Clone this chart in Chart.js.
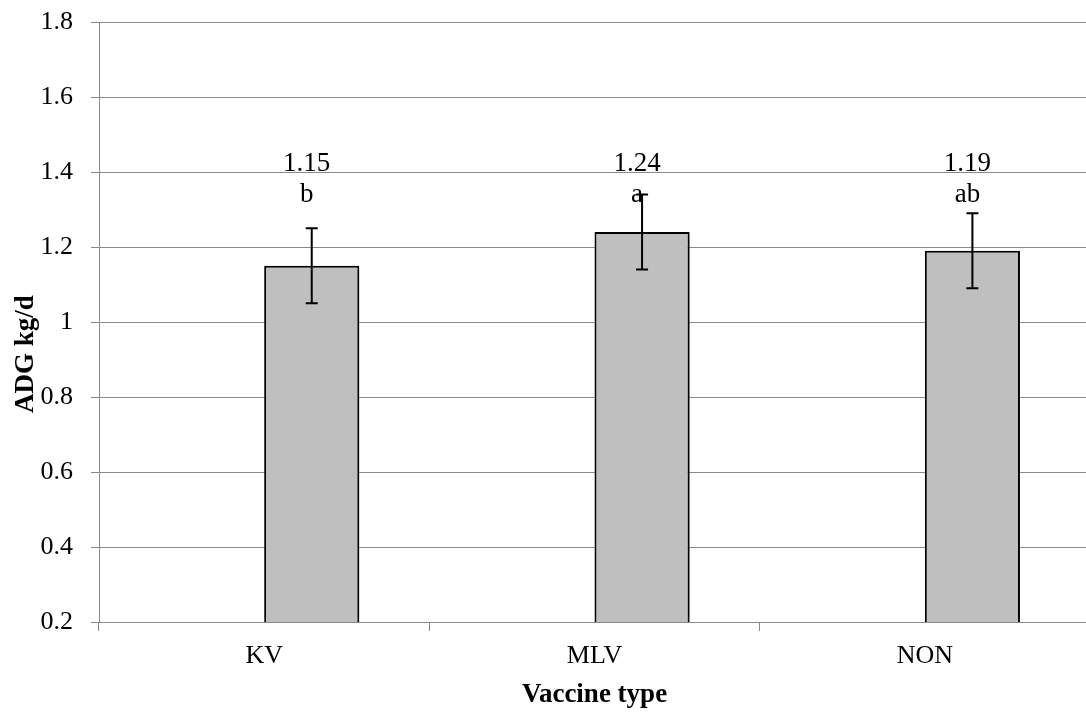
<!DOCTYPE html>
<html>
<head>
<meta charset="utf-8">
<script src="https://cdn.jsdelivr.net/npm/chart.js@4.4.1/dist/chart.umd.min.js"></script>
<style>
  html, body { margin: 0; padding: 0; background: #fff; overflow: hidden; }
  #wrap { width: 1090px; height: 713px; }
</style>
</head>
<body>
<div id="wrap"><canvas id="adg"></canvas></div>
<script>
// ADG by vaccine type
var categories = ['KV', 'MLV', 'NON'];
var adgMeans = [1.15, 1.24, 1.19];
var adgErrors = [0.1, 0.1, 0.1];
var sigLetters = ['b', 'a', 'ab'];
var emptySeries = [null, null, null]; // unused first series, keeps the grey bars right of centre

var yMin = 0.2;
var yMax = 1.8;
var yStep = 0.2;

var SERIF = '"Liberation Serif", "Times New Roman", serif';
var GRID = '#8a8a8a';

// error bars + mean / letter labels over each bar
var errorBars = {
  id: 'errorBars',
  afterDatasetsDraw: function(chart) {
    var ctx = chart.ctx;
    var y = chart.scales.y;
    var meta = chart.getDatasetMeta(1);
    ctx.save();
    ctx.strokeStyle = '#000';
    ctx.lineWidth = 2;
    meta.data.forEach(function(bar, i) {
      var top = y.getPixelForValue(adgMeans[i] + adgErrors[i]);
      var bot = y.getPixelForValue(adgMeans[i] - adgErrors[i]);
      ctx.beginPath();
      ctx.moveTo(bar.x, top); ctx.lineTo(bar.x, bot);
      ctx.moveTo(bar.x - 6, top); ctx.lineTo(bar.x + 6, top);
      ctx.moveTo(bar.x - 6, bot); ctx.lineTo(bar.x + 6, bot);
      ctx.stroke();

      ctx.fillStyle = '#000';
      ctx.font = '27px ' + SERIF;
      ctx.textAlign = 'center';
      ctx.textBaseline = 'alphabetic';
      ctx.fillText(adgMeans[i].toFixed(2), bar.x - 5, y.getPixelForValue(1.404));
      ctx.fillText(sigLetters[i], bar.x - 5, y.getPixelForValue(1.321));
    });
    ctx.restore();
  }
};

// y title sits a bit below the middle of the axis
var yTitle = {
  id: 'yTitle',
  afterDraw: function(chart) {
    var ctx = chart.ctx;
    var a = chart.chartArea;
    ctx.save();
    ctx.translate(33, (a.top + a.bottom) / 2 + 32);
    ctx.rotate(-Math.PI / 2);
    ctx.fillStyle = '#000';
    ctx.font = 'bold 27px ' + SERIF;
    ctx.textAlign = 'center';
    ctx.textBaseline = 'alphabetic';
    ctx.fillText('ADG kg/d', 0, 0);
    ctx.restore();
  }
};

// soft shadow under the bars
var barShadow = {
  id: 'barShadow',
  beforeDatasetDraw: function(chart, args) {
    if (args.index !== 1) return;
    var ctx = chart.ctx;
    ctx.save();
    ctx.shadowColor = 'rgba(0,0,0,0.25)';
    ctx.shadowBlur = 4;
    ctx.shadowOffsetX = 2;
    ctx.shadowOffsetY = 2;
  },
  afterDatasetDraw: function(chart, args) {
    if (args.index !== 1) return;
    chart.ctx.restore();
  }
};

new Chart(document.getElementById('adg'), {
  type: 'bar',
  data: {
    labels: categories,
    datasets: [
      { data: emptySeries, backgroundColor: 'rgba(0,0,0,0)' },
      {
        data: adgMeans,
        backgroundColor: '#bfbfbf',
        borderColor: '#000',
        borderWidth: 2,
        borderSkipped: false
      }
    ]
  },
  options: {
    responsive: true,
    maintainAspectRatio: false,
    animation: false,
    devicePixelRatio: 1,
    categoryPercentage: 0.576,
    barPercentage: 1,
    layout: { padding: { top: 22, right: 0, bottom: 0, left: 0 } },
    plugins: {
      legend: { display: false },
      tooltip: { enabled: false }
    },
    scales: {
      x: {
        grid: { offset: true, drawOnChartArea: false, drawTicks: true, tickLength: 9, color: GRID, lineWidth: 1 },
        border: { display: true, color: GRID, width: 1 },
        ticks: { color: '#000', font: { family: SERIF, size: 26 }, padding: 10 },
        title: {
          display: true,
          text: 'Vaccine type',
          color: '#000',
          font: { family: SERIF, size: 27, weight: 'bold' },
          padding: { top: 0, bottom: 2 }
        },
        afterFit: function(s) { s.height = 91; s.paddingLeft = 0; s.paddingRight = 0; }
      },
      y: {
        min: yMin,
        max: yMax,
        grid: { color: GRID, lineWidth: 1, tickLength: 8 },
        border: { display: true, color: GRID, width: 1 },
        ticks: {
          stepSize: yStep,
          padding: 18,
          color: '#000',
          font: { family: SERIF, size: 26 },
          callback: function(v) { return Number(v.toFixed(1)).toString(); }
        },
        afterFit: function(s) { s.width = 99; s.paddingTop = 0; s.paddingBottom = 0; }
      }
    }
  },
  plugins: [barShadow, errorBars, yTitle]
});
</script>
</body>
</html>
